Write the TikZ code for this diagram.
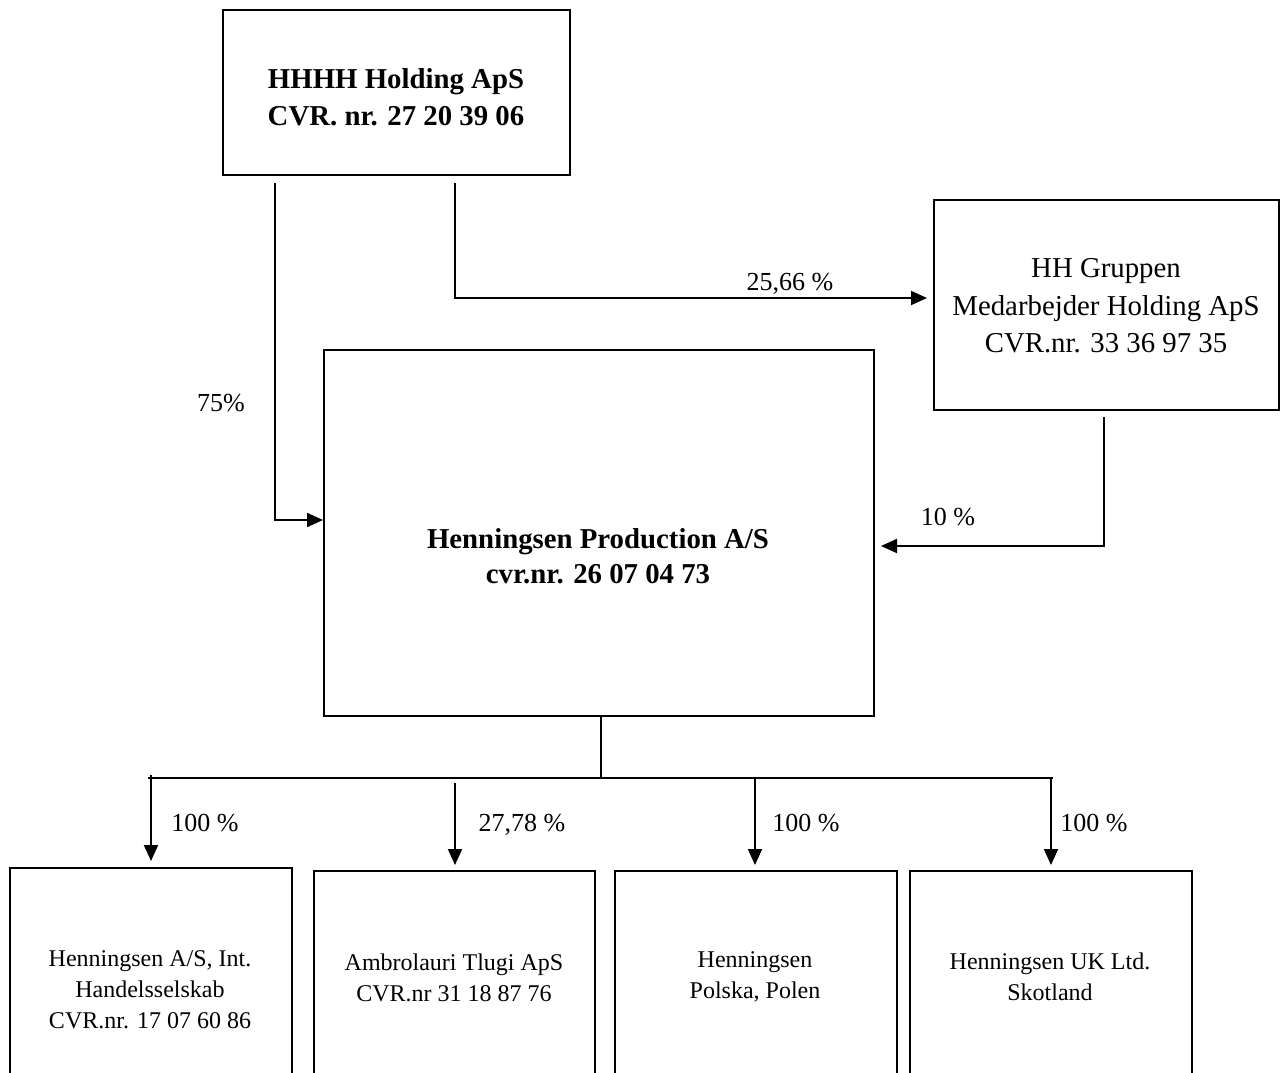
\documentclass[tikz,border=0pt]{standalone}
\usepackage{fontspec}
\setmainfont{Liberation Serif}
\usetikzlibrary{arrows.meta}
\tikzset{
  box/.style={draw, line width=1pt, inner sep=0pt, rectangle},
  big/.style={align=center, inner sep=0pt, font=\fontsize{14.4}{18.5}\selectfont},
  bigb/.style={align=center, inner sep=0pt, font=\fontsize{14.4}{18.5}\selectfont\bfseries},
  small/.style={align=center, inner sep=0pt, font=\fontsize{12}{15.6}\selectfont},
  pct/.style={inner sep=0pt, text height=9pt, text depth=0pt, font=\fontsize{13}{15}\selectfont},
  conn/.style={line width=1pt},
  arr/.style={line width=1pt, -{Triangle[length=8pt,width=7pt]}}
}
\begin{document}
\begin{tikzpicture}[x=0.5pt,y=-0.5pt]
\useasboundingbox (0,0) rectangle (1286,1072);
\clip (0,0) rectangle (1286,1072);
% boxes
\node[box, minimum width=173.5pt, minimum height=82.5pt] (hhhh) at (396.5,92.5) {};
\node[box, minimum width=172.5pt, minimum height=105pt] (hhg) at (1106.5,305) {};
\node[box, minimum width=275pt, minimum height=183pt] (main) at (599,533) {};
\node[box, minimum width=141pt, minimum height=116pt] (b1) at (151,984) {};
\node[box, minimum width=140.5pt, minimum height=114.5pt] (b2) at (454.5,985.5) {};
\node[box, minimum width=141pt, minimum height=114.5pt] (b3) at (756,985.5) {};
\node[box, minimum width=141pt, minimum height=114.5pt] (b4) at (1051,985.5) {};
% texts
\node[bigb] (thhhh) at (396,97) {HHHH Holding ApS\\CVR. nr. 27 20 39 06};
\node[big, font=\fontsize{14.4}{18.8}\selectfont] (thhg) at (1106,306) {HH Gruppen\\Medarbejder Holding ApS\\CVR.nr. 33 36 97 35};
\node[bigb, font=\fontsize{14.4}{17.5}\selectfont\bfseries] (tmain) at (598,556) {Henningsen Production A/S\\cvr.nr. 26 07 04 73};
\node[small] (tb1) at (150,990) {Henningsen A/S, Int.\\Handelsselskab\\CVR.nr. 17 07 60 86};
\node[small] (tb2) at (454,978) {Ambrolauri Tlugi ApS\\CVR.nr 31 18 87 76};
\node[small] (tb3) at (755,977) {Henningsen\\Polska, Polen};
\node[small] (tb4) at (1050,977) {Henningsen UK Ltd.\\Skotland};
% percentage labels
\node[pct] (l75) at (221,402) {75\%};
\node[pct] (l2566) at (790,281) {25,66 \%};
\node[pct] (l10) at (948,516) {10 \%};
\node[pct] (l1) at (205,822) {100 \%};
\node[pct] (l2) at (522,822) {27,78 \%};
\node[pct] (l3) at (806,822) {100 \%};
\node[pct] (l4) at (1094,822) {100 \%};
% connectors
\draw[arr, shorten <=3.5pt] (hhhh.south -| 275,0) |- (main.west |- 0,520);
\draw[arr, shorten <=3.5pt, shorten >=3pt] (hhhh.south -| 455,0) |- (hhg.west |- 0,298);
\draw[arr, shorten <=3pt, shorten >=3pt] (hhg.south -| 1104,0) |- (main.east |- 0,546);
\coordinate (busL) at (148,778);
\coordinate (busR) at (1053,778);
\coordinate (busM) at (601,778);
\draw[conn] (main.south -| busM) -- (busM);
\draw[conn] (busL) -- (busR);
\draw[arr, shorten >=3pt] (151,775) -- (b1.north -| 151,0);
\draw[arr, shorten >=2.5pt, shorten <=2.5pt] (455,778) -- (b2.north -| 455,0);
\draw[arr, shorten >=2.5pt] (755,778) -- (b3.north -| 755,0);
\draw[arr, shorten >=2.5pt] (1051,778) -- (b4.north -| 1051,0);
\end{tikzpicture}
\end{document}
